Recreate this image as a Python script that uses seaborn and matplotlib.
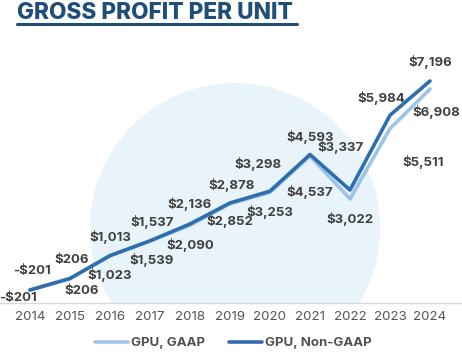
import matplotlib
matplotlib.use("Agg")
import matplotlib.pyplot as plt
from matplotlib.patches import Ellipse
from matplotlib.lines import Line2D
import seaborn as sns
import pandas as pd

years = [2014, 2015, 2016, 2017, 2018, 2019, 2020, 2021, 2022, 2023, 2024]
gpu_gaap = [-201, 206, 1023, 1539, 2090, 2852, 3253, 4537, 3022, 5511, 6908]
gpu_non_gaap = [-201, 206, 1013, 1537, 2136, 2878, 3298, 4593, 3337, 5984, 7196]
series_names = ["GPU, GAAP", "GPU, Non-GAAP"]
title = "GROSS PROFIT PER UNIT"

# label offsets in pixels (dx, dy upward positive)
off_non_gaap = [(2, 19), (2, 18), (0, 19), (2, 19), (0, 20), (2, 18), (-12, 27),
                (0, 18), (-9, 43), (-9, 17), (0, 19)]
off_gaap = [(-12, -8), (12, -13), (0, -20), (2, -19), (0, -20), (0, -17), (0, -20),
            (0, -36), (0, -20), (33, -33), (6, -23)]

sns.set_theme(style="white")
plt.rcParams["font.family"] = ["Inter", "DejaVu Sans"]

C_LIGHT = "#9dc3e6"
C_DARK = "#2e6eae"
TXT = "#404040"

W, H = 462, 359
fig = plt.figure(figsize=(W / 100, H / 100), dpi=100)
ax = fig.add_axes([0, (H - 303) / H, 1, (303 - 45) / H])

# background circle
circ = Ellipse((235 / W, 1 - 228 / H), 290 / W, 290 / H, transform=fig.transFigure,
               facecolor="#e8f3fa", edgecolor="none", zorder=0)
ax.add_patch(circ)

df = pd.DataFrame({
    "year": years * 2,
    "value": gpu_gaap + gpu_non_gaap,
    "series": [series_names[0]] * len(years) + [series_names[1]] * len(years),
})
sns.lineplot(data=df, x="year", y="value", hue="series",
             palette={series_names[0]: C_LIGHT, series_names[1]: C_DARK},
             linewidth=2.6, ax=ax, legend=False, zorder=3)

def fmt(v):
    return ("-$" if v < 0 else "$") + f"{abs(v):,}"

for x, v, o in zip(years, gpu_non_gaap, off_non_gaap):
    ax.annotate(fmt(v), (x, v), xytext=o, textcoords="offset pixels",
                ha="center", va="center", fontsize=9.5, fontweight="bold", color=TXT, zorder=5)
for x, v, o in zip(years, gpu_gaap, off_gaap):
    ax.annotate(fmt(v), (x, v), xytext=o, textcoords="offset pixels",
                ha="center", va="center", fontsize=9.5, fontweight="bold", color=TXT, zorder=5)

ax.set_xlim(2013.25, 2024.8)
ax.set_ylim(-661, 8469)
ax.set_xticks(years)
ax.set_xticklabels([str(y) for y in years])
ax.set_yticks([])
ax.set_xlabel("")
ax.set_ylabel("")
for s in ["top", "right", "left"]:
    ax.spines[s].set_visible(False)
ax.spines["bottom"].set_color("#d9d9d9")
ax.spines["bottom"].set_linewidth(1)
ax.tick_params(axis="x", length=0, pad=6, labelsize=9.6, labelcolor="#555555")
ax.patch.set_alpha(0)

handles = [Line2D([], [], color=C_LIGHT, linewidth=2.6),
           Line2D([], [], color=C_DARK, linewidth=2.6)]
leg = fig.legend(handles, series_names, loc="center", bbox_to_anchor=(233 / W, 1 - 343 / H),
                 ncol=2, frameon=False, handlelength=2.5, handletextpad=0.25,
                 columnspacing=1.8, prop={"weight": "bold", "size": 9.5})
for t in leg.get_texts():
    t.set_color("#505050")

# title
fig.text(17 / W, 1 - 19 / H, title, ha="left", va="baseline", fontsize=16.3,
         fontweight="heavy", color="#1f4e79")
fig.add_artist(Line2D([17 / W, 297 / W], [1 - 24 / H, 1 - 24 / H],
                      transform=fig.transFigure, color="#1f4e79", linewidth=2.2))

fig.savefig("out.png", dpi=100)
